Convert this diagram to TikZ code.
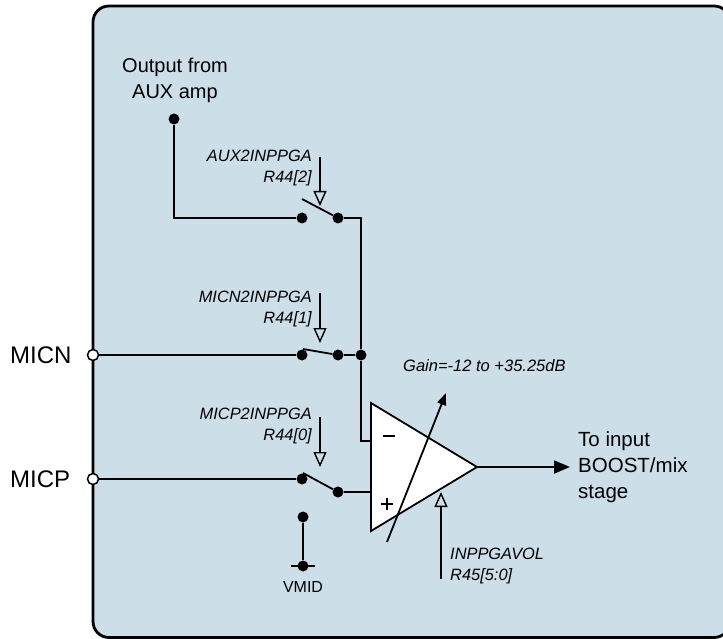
\documentclass[tikz,border=0pt]{standalone}
\usepackage{fontspec}
\setmainfont{Liberation Sans}
\usetikzlibrary{arrows.meta}
\definecolor{panelblue}{RGB}{204,222,232}
\tikzset{
  wire/.style={line width=1.8pt},
  jdot/.style={circle,fill=black,inner sep=0pt,minimum size=11pt},
  pin/.style={circle,draw=black,fill=white,line width=1.5pt,inner sep=0pt,minimum size=11pt},
  ctrl/.style={font=\fontsize{16.4}{21}\selectfont\itshape,inner sep=0pt,align=right,anchor=east},
  ctrltip/.style={wire,-{Triangle[open,length=15pt,width=13pt,line width=1.4pt]}},
}
\begin{document}
\begin{tikzpicture}[x=1pt,y=-1pt]
\useasboundingbox (0,0) rectangle (723,639);
\clip (0,0) rectangle (723,639);
%
\draw[line width=2.8pt,fill=panelblue,rounded corners=16pt] (93,6) rectangle (730,637.5);
%
% AUX input path
\node (auxtxt) at (175,80) [align=center,inner sep=0pt,font=\fontsize{20}{26}\selectfont] {Output from\\AUX amp};
\node (auxsrc) at (174,119) [jdot] {};
\node (auxL) at (302,218) [jdot] {};
\node (auxR) at (338,218) [jdot] {};
\coordinate (auxbl) at (302,199);
\draw[wire] (auxsrc) |- (auxL);
\draw[wire] (auxbl) -- (auxR);
\node (auxlbl) at (312,168) [ctrl] {AUX2INPPGA\\R44[2]};
\coordinate (auxct) at (320,157);
\draw[ctrltip] (auxct) -- (320,206);
%
% MICN path
\node (micn) at (93,355) [pin] {};
\node (micntxt) at (10,355) [anchor=west,inner sep=0pt,font=\fontsize{24}{28}\selectfont] {MICN};
\node (ncL) at (302,355) [jdot] {};
\node (ncR) at (338,355) [jdot] {};
\node (nj) at (361,355) [jdot] {};
\coordinate (ncbl) at (303,349);
\draw[wire] (micn) -- (ncL);
\draw[wire] (ncbl) -- (ncR);
\draw[wire] (ncR) -- (nj);
\node (ncnlbl) at (312,309) [ctrl] {MICN2INPPGA\\R44[1]};
\coordinate (ncct) at (320,293);
\draw[ctrltip] (ncct) -- (320,343);
%
% MICP path
\node (micp) at (93,479) [pin] {};
\node (micptxt) at (10,479) [anchor=west,inner sep=0pt,font=\fontsize{24}{28}\selectfont] {MICP};
\node (pcL) at (302,479) [jdot] {};
\node (pcR) at (338,492) [jdot] {};
\coordinate (pcbl) at (303,473);
\draw[wire] (micp) -- (pcL);
\draw[wire] (pcbl) -- (pcR);
\node (pcplbl) at (312,426) [ctrl] {MICP2INPPGA\\R44[0]};
\coordinate (pcct) at (320,417);
\draw[ctrltip] (pcct) -- (320,467);
%
% VMID
\node (vmtop) at (303,517) [jdot] {};
\node (vmbot) at (303,566) [jdot] {};
\draw[wire] (vmtop) -- (vmbot);
\draw[wire] (291,566) -- (315,566);
\node (vmtxt) at (303,587) [inner sep=0pt,font=\fontsize{16}{20}\selectfont] {VMID};
%
% PGA
\coordinate (ampA) at (371,403);
\coordinate (ampB) at (371,531);
\coordinate (ampOut) at (477,467);
\coordinate (inm) at (371,441);
\coordinate (inp) at (371,492);
\draw[wire] (auxR) -| (nj);
\draw[wire] (nj) |- (inm);
\draw[wire] (pcR) -- (inp);
\draw[wire,fill=white] (ampA) -- (ampOut) -- (ampB) -- cycle;
\draw[line width=1.3pt] (383,436) -- (395,436);
\draw[line width=1.3pt] (381,504) -- (393,504) (387,498) -- (387,510);
%
\draw[wire,-{Triangle[length=12pt,width=9pt]}] (387,542) -- (446,393);
\node (gain) at (403,366) [anchor=west,inner sep=0pt,font=\fontsize{16.5}{20}\selectfont\itshape] {Gain=-12 to +35.25dB};
%
\coordinate (outend) at (570,467);
\draw[wire,-{Triangle[length=16pt,width=13pt]}] (ampOut) -- (outend);
\node (outtxt) at (578,467) [anchor=west,align=left,inner sep=0pt,font=\fontsize{20.5}{26}\selectfont] {To input\\BOOST/mix\\stage};
%
\coordinate (volct) at (441,579);
\draw[ctrltip] (volct) -- (441,492);
\node (vollbl) at (450,566) [anchor=west,align=left,inner sep=0pt,font=\fontsize{16.4}{21}\selectfont\itshape] {INPPGAVOL\\R45[5:0]};
\end{tikzpicture}
\end{document}
